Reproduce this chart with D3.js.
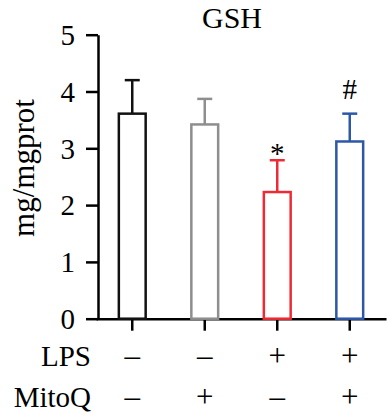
<!DOCTYPE html>
<html>
<head>
<meta charset="utf-8">
<script src="https://cdn.jsdelivr.net/npm/d3@7"></script>
<style>
  body { margin: 0; background: #fff; }
  svg text { font-family: "Liberation Serif", "DejaVu Serif", serif; fill: #000; }
</style>
</head>
<body>
<svg id="chart" width="387" height="420"></svg>
<script>
const width = 387, height = 420;

// data
const groups = ["ctrl", "mitoq", "lps", "lps_mitoq"];
const means = [3.61, 3.42, 2.23, 3.12];
const errs = [0.59, 0.45, 0.56, 0.49];
const colors = ["#111111", "#8e8e8e", "#ee2b34", "#2d58a7"];
const marks = ["", "", "*", "#"];
const lpsRow = ["–", "–", "+", "+"];
const mitoqRow = ["–", "+", "–", "+"];
const yTicks = [0, 1, 2, 3, 4, 5];

const svg = d3.select("#chart");

const x = d3.scaleBand()
  .domain(groups)
  .range([96, 386])
  .paddingInner(0.63)
  .paddingOuter(0.315);

const y = d3.scaleLinear()
  .domain([0, 5])
  .range([318.7, 34.7]);

// y axis
const yAxis = svg.append("g")
  .attr("transform", "translate(98,0)")
  .call(d3.axisLeft(y).tickValues(yTicks).tickFormat(d3.format("d"))
    .tickSize(12).tickSizeOuter(0).tickPadding(11));
yAxis.select(".domain").attr("stroke-width", 2.5);
yAxis.selectAll(".tick line").attr("stroke-width", 2.5);
yAxis.selectAll(".tick text").attr("font-size", 29).attr("dy", "0.34em");

// x axis
const xAxis = svg.append("g")
  .attr("transform", `translate(0,${y(0)})`)
  .call(d3.axisBottom(x).tickSize(12).tickSizeOuter(0).tickFormat(""));
xAxis.select(".domain").attr("stroke-width", 2.5);
xAxis.selectAll(".tick line").attr("stroke-width", 2.5);

// error bars
const capW = 15;
const eb = svg.append("g");
groups.forEach((g, i) => {
  const cx = x(g) + x.bandwidth() / 2;
  eb.append("line")
    .attr("x1", cx).attr("x2", cx)
    .attr("y1", y(means[i])).attr("y2", y(means[i] + errs[i]))
    .attr("stroke", colors[i]).attr("stroke-width", 2.5);
  eb.append("line")
    .attr("x1", cx - capW / 2).attr("x2", cx + capW / 2)
    .attr("y1", y(means[i] + errs[i])).attr("y2", y(means[i] + errs[i]))
    .attr("stroke", colors[i]).attr("stroke-width", 2.5);
});

// bars
svg.append("g").selectAll("rect")
  .data(groups)
  .join("rect")
  .attr("x", d => x(d))
  .attr("y", (d, i) => y(means[i]))
  .attr("width", x.bandwidth())
  .attr("height", (d, i) => y(0) - y(means[i]))
  .attr("fill", "#fff")
  .attr("stroke", (d, i) => colors[i])
  .attr("stroke-width", 2.5);

// significance marks
svg.append("g").selectAll("text")
  .data(groups)
  .join("text")
  .attr("x", d => x(d) + x.bandwidth() / 2)
  .attr("y", (d, i) => y(means[i] + errs[i]) + (marks[i] === "*" ? 3 : -15))
  .attr("text-anchor", "middle")
  .attr("font-size", 29)
  .text((d, i) => marks[i]);

// title
svg.append("text")
  .attr("x", 232).attr("y", 28)
  .attr("text-anchor", "middle")
  .attr("font-size", 30)
  .text("GSH");

// y label
svg.append("text")
  .attr("transform", "translate(34,168) rotate(-90)")
  .attr("text-anchor", "middle")
  .attr("font-size", 31)
  .text("mg/mgprot");

// treatment rows
const rows = [["LPS", lpsRow, 366], ["MitoQ", mitoqRow, 407]];
rows.forEach(([name, vals, yy]) => {
  svg.append("text")
    .attr("x", 91).attr("y", yy)
    .attr("text-anchor", "end")
    .attr("font-size", 29)
    .text(name);
  svg.append("g").selectAll("text")
    .data(groups)
    .join("text")
    .attr("x", d => x(d) + x.bandwidth() / 2)
    .attr("y", yy)
    .attr("text-anchor", "middle")
    .attr("font-size", 31)
    .text((d, i) => vals[i]);
});
</script>
</body>
</html>
